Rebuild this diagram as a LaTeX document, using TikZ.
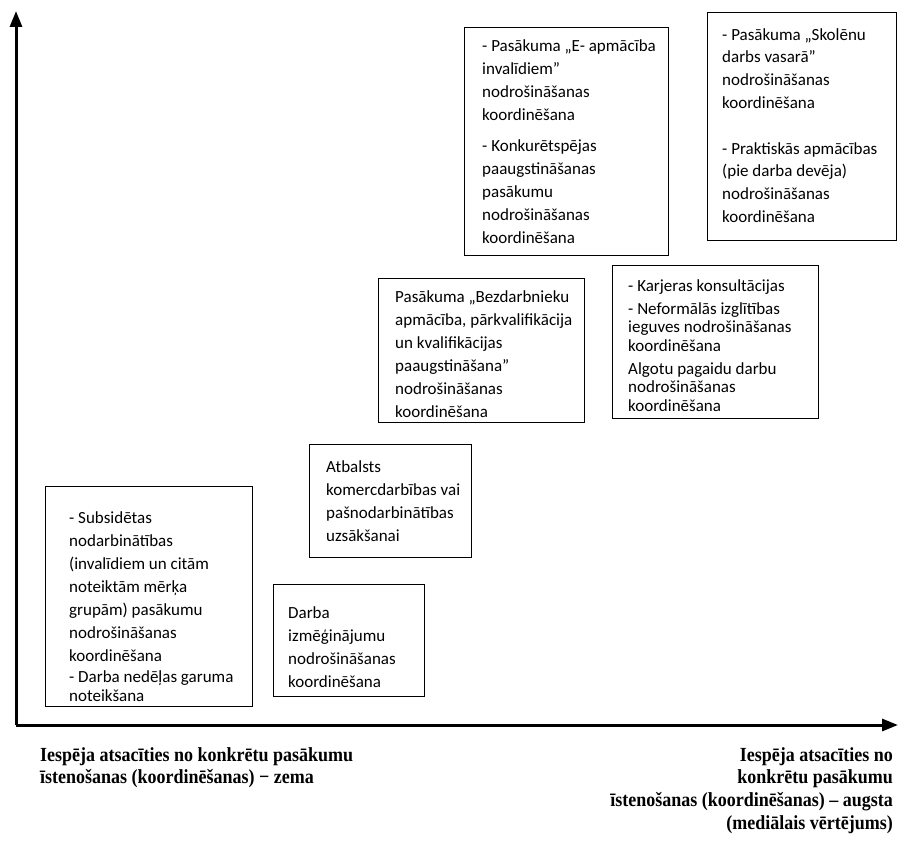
\documentclass[tikz,border=0pt]{standalone}
\usepackage{fontspec}
\setmainfont{Carlito}
\newfontfamily\labelfont[FakeStretch=0.9]{Liberation Serif}
\usepackage{tikz}
\usetikzlibrary{arrows.meta}

\begin{document}
\begin{tikzpicture}[x=1pt,y=-1pt,
	box/.style={draw,line width=1.3pt,anchor=north west,inner sep=0pt},
	boxtext/.style={anchor=north west,align=left,inner sep=0pt,font=\fontsize{17}{23}\selectfont,execute at begin node=\strut},
	axislabel/.style={inner sep=0pt,font=\labelfont\bfseries\fontsize{20}{22.7}\selectfont}]
	\useasboundingbox (0,0) rectangle (909,848);

	% axes
	\coordinate (O) at (16,725);
	\coordinate (Ytip) at (16,11);
	\coordinate (Xtip) at (898,725);
	\draw[line width=3pt,-{Triangle[length=16pt,width=12pt]}] (O) -- (Ytip);
	\draw[line width=3pt,-{Triangle[length=16pt,width=12pt]}] (O) -- (Xtip);

	% lower left
	\node[box,minimum width=207pt,minimum height=220pt] (subs) at (45,486) {};
	\node[boxtext] (substext) at ([shift={(24,25)}]subs.north west) {- Subsidētas\\nodarbinātības\\(invalīdiem un citām\\noteiktām mērķa\\grupām) pasākumu\\nodrošināšanas\\koordinēšana\\[-2pt]- Darba nedēļas garuma\\[-4pt]noteikšana};

	\node[box,minimum width=151pt,minimum height=112pt] (darba) at (273,584) {};
	\node[boxtext] (darbatext) at ([shift={(15,22)}]darba.north west) {Darba\\izmēģinājumu\\nodrošināšanas\\koordinēšana};

	\node[box,minimum width=162pt,minimum height=113pt] (atb) at (309,444) {};
	\node[boxtext] (atbtext) at ([shift={(17,16)}]atb.north west) {Atbalsts\\komercdarbības vai\\pašnodarbinātības\\uzsākšanai};

	% middle
	\node[box,minimum width=206pt,minimum height=144pt] (bezd) at (378,278) {};
	\node[boxtext] (bezdtext) at ([shift={(17,12)}]bezd.north west) {Pasākuma „Bezdarbnieku\\apmācība, pārkvalifikācija\\un kvalifikācijas\\paaugstināšana”\\nodrošināšanas\\koordinēšana};

	\node[box,minimum width=206pt,minimum height=153pt] (karj) at (612,265) {};
	\node[boxtext,font=\fontsize{17}{18.5}\selectfont] (karjtext) at ([shift={(16,14)}]karj.north west) {- Karjeras konsultācijas\\[4.5pt]- Neformālās izglītības\\ieguves nodrošināšanas\\koordinēšana\\[4.5pt]Algotu pagaidu darbu\\nodrošināšanas\\koordinēšana};

	% upper right
	\node[box,minimum width=204pt,minimum height=228pt] (eapm) at (464,27) {};
	\node[boxtext] (eapmtext) at ([shift={(18,12)}]eapm.north west) {- Pasākuma „E- apmācība\\invalīdiem”\\nodrošināšanas\\koordinēšana\\[8pt]- Konkurētspējas\\paaugstināšanas\\pasākumu\\nodrošināšanas\\koordinēšana};

	\node[box,minimum width=189pt,minimum height=228pt] (skol) at (707,12) {};
	\node[boxtext,font=\fontsize{17}{22.8}\selectfont] (skoltext) at ([shift={(15,16)}]skol.north west) {- Pasākuma „Skolēnu\\darbs vasarā”\\nodrošināšanas\\koordinēšana\\[22.8pt]- Praktiskās apmācības\\(pie darba devēja)\\nodrošināšanas\\koordinēšana};

	% axis captions
	\node[axislabel,anchor=base west,align=left] (lowlabel) at (40,783.7) {Iespēja atsacīties no konkrētu pasākumu\\īstenošanas (koordinēšanas) − zema};
	\node[axislabel,anchor=base east,align=right] (highlabel) at (893,829.1) {Iespēja atsacīties no\\konkrētu pasākumu\\īstenošanas (koordinēšanas) – augsta\\(mediālais vērtējums)};
\end{tikzpicture}
\end{document}
